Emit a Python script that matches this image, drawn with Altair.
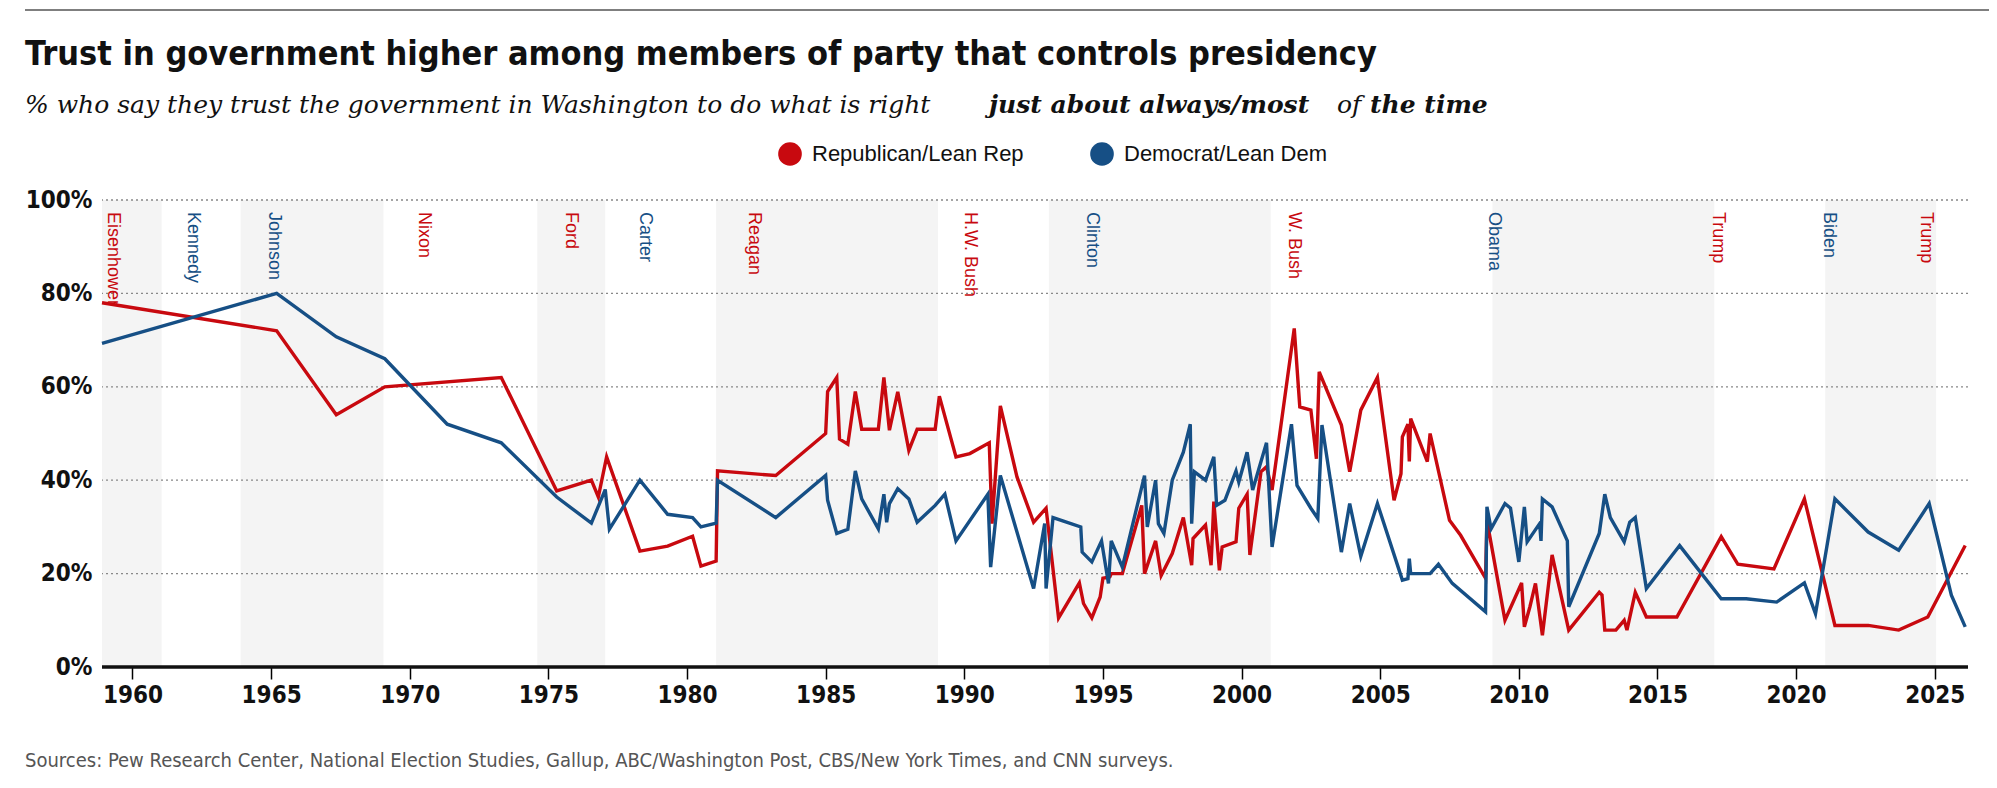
import pandas as pd
import altair as alt

RED = "#c8090f"
BLUE = "#164f85"
NARROW = "DejaVu Sans Condensed, Roboto, sans-serif"
SERIF = "DejaVu Serif"

rep_year = [1958.9, 1965.2, 1967.35, 1969.1, 1973.3, 1975.3, 1976.55, 1976.8, 1977.1, 1978.3,
            1979.3, 1980.2, 1980.5, 1981.05, 1981.1, 1983.2, 1985.0, 1985.07, 1985.4, 1985.5,
            1985.8, 1986.07, 1986.3, 1986.9, 1987.1, 1987.3, 1987.6, 1988.0, 1988.3, 1988.95,
            1989.1, 1989.7, 1990.2, 1990.9, 1991.0, 1991.3, 1991.9, 1992.5, 1992.95, 1993.4,
            1994.15, 1994.3, 1994.6, 1994.9, 1995.0, 1995.25, 1995.3, 1995.7, 1996.4, 1996.5,
            1996.9, 1997.1, 1997.5, 1997.9, 1998.2, 1998.25, 1998.7, 1998.9, 1999.0, 1999.2,
            1999.3, 1999.8, 1999.9, 2000.2, 2000.3, 2000.7, 2000.9, 2001.1, 2001.9, 2002.1,
            2002.5, 2002.7, 2002.8, 2003.6, 2003.9, 2004.3, 2004.9, 2005.5, 2005.75, 2005.8,
            2006.0, 2006.05, 2006.1, 2006.7, 2006.8, 2007.5, 2007.9, 2008.8, 2008.85, 2009.5,
            2010.1, 2010.2, 2010.4, 2010.6, 2010.85, 2011.2, 2011.8, 2012.9, 2013.0, 2013.1,
            2013.5, 2013.8, 2013.9, 2014.2, 2014.6, 2015.7, 2017.3, 2017.9, 2019.2, 2020.3,
            2021.4, 2022.6, 2023.7, 2024.75, 2026.1]
rep_val = [78, 72, 54, 60, 62, 37.7, 40, 36.4, 45, 24.8,
           25.9, 28, 21.6, 22.7, 42, 41, 50, 59, 62, 48.8,
           47.7, 59, 50.9, 50.9, 62, 50.7, 58.9, 46.4, 50.9, 50.9,
           58, 45, 45.7, 48, 30.7, 55.9, 40.7, 31, 34, 10.5,
           18, 13.6, 10.5, 15, 19, 19.3, 20, 20, 34.6, 20,
           27, 19.6, 24.3, 32, 21.8, 27.5, 30.4, 21.8, 35.4, 20.7,
           25.7, 26.8, 34, 37, 24, 41.8, 42.9, 37.9, 72.5, 55.7,
           55, 44.6, 63.2, 51.8, 41.8, 55, 62, 35.7, 41.4, 49.3,
           52, 44, 53.2, 44, 50, 31.4, 28.2, 19, 31.4, 10,
           18, 8.6, 12.9, 17.9, 6.8, 24, 7.9, 16, 15.4, 7.9,
           7.9, 10, 7.9, 16, 10.7, 10.7, 27.9, 22, 21, 36,
           8.9, 8.9, 7.9, 10.7, 26]

dem_year = [1958.9, 1965.2, 1967.35, 1969.1, 1971.35, 1973.3, 1975.3, 1976.55, 1977.05, 1977.2,
            1978.3, 1979.3, 1980.2, 1980.5, 1981.05, 1981.1, 1983.2, 1985.0, 1985.07, 1985.4,
            1985.8, 1986.07, 1986.3, 1986.9, 1987.1, 1987.2, 1987.3, 1987.6, 1988.0, 1988.3,
            1988.95, 1989.3, 1989.7, 1990.85, 1990.95, 1991.3, 1992.5, 1992.9, 1992.95, 1993.2,
            1994.2, 1994.25, 1994.6, 1994.95, 1995.2, 1995.3, 1995.7, 1996.5, 1996.6, 1996.9,
            1997.0, 1997.2, 1997.5, 1997.9, 1998.15, 1998.2, 1998.3, 1998.7, 1999.0, 1999.1,
            1999.4, 1999.8, 1999.9, 2000.2, 2000.4, 2000.9, 2001.1, 2001.8, 2002.0, 2002.5,
            2002.75, 2002.9, 2003.6, 2003.9, 2004.3, 2004.9, 2005.8, 2006.0, 2006.05, 2006.1,
            2006.8, 2007.1, 2007.6, 2008.8, 2008.85, 2009.0, 2009.5, 2009.7, 2010.0, 2010.2,
            2010.3, 2010.75, 2010.8, 2010.85, 2011.2, 2011.75, 2011.8, 2012.9, 2013.1, 2013.3,
            2013.8, 2014.0, 2014.2, 2014.6, 2015.8, 2017.3, 2018.2, 2019.3, 2020.3, 2020.7,
            2021.4, 2022.6, 2023.7, 2024.8, 2025.6, 2026.1]
dem_val = [69.3, 80, 70.7, 66, 52, 48, 36.4, 30.8, 38, 29.5,
           40, 32.7, 32, 30, 30.8, 40, 32, 41, 35.7, 28.6,
           29.5, 42, 36, 29.6, 37, 31, 35, 38.2, 36, 31,
           34.6, 37, 27, 37, 21.4, 41, 16.8, 30.7, 16.8, 32,
           30, 24.6, 22.5, 27, 17.9, 27, 21.4, 41, 30, 40,
           30.7, 28.6, 40, 46, 52, 30.7, 41.8, 40, 45, 34.6,
           35.7, 42, 39.6, 46, 37.9, 48, 25.7, 52, 38.9, 34,
           31.8, 51.8, 24.6, 35, 23.7, 35, 18.6, 18.9, 23.2, 20,
           20, 22, 17.9, 11.8, 34.3, 29.6, 35, 34, 22.5, 34.3,
           26.8, 30.7, 27, 36, 34.3, 27, 12.9, 28.6, 37, 32,
           26.8, 31, 32, 16.8, 26, 14.6, 14.6, 13.9, 18, 11.4,
           36, 28.9, 25, 35, 15.4, 8.6]

pres_name = ["Eisenhower", "Kennedy", "Johnson", "Nixon", "Ford", "Carter", "Reagan", "H.W. Bush",
             "Clinton", "W. Bush", "Obama", "Trump", "Biden", "Trump"]
pres_party = ["R", "D", "D", "R", "R", "D", "R", "R", "D", "R", "D", "R", "D", "R"]
pres_start = [1958.9, 1961.05, 1963.9, 1969.05, 1974.6, 1977.05, 1981.05, 1989.05,
              1993.05, 2001.05, 2009.05, 2017.05, 2021.05, 2025.05]
pres_end = pres_start[1:] + [2026.2]
label_year = [1959.3, 1962.2, 1965.1, 1970.5, 1975.8, 1978.5, 1982.4, 1990.2,
              1994.6, 2001.9, 2009.1, 2017.2, 2021.2, 2024.7]

legend_name = ["Republican/Lean Rep", "Democrat/Lean Dem"]
legend_color = [RED, BLUE]

X0, X1 = 1958.9, 2026.2
W, H = 1866, 467

lines = pd.concat([
    pd.DataFrame({"party": legend_name[0], "year": rep_year, "value": rep_val,
                  "order": range(len(rep_year))}),
    pd.DataFrame({"party": legend_name[1], "year": dem_year, "value": dem_val,
                  "order": range(len(dem_year))}),
])
pres = pd.DataFrame({"name": pres_name, "party": pres_party, "start": pres_start,
                     "end": pres_end, "label": label_year,
                     "shade": [i % 2 == 0 for i in range(len(pres_name))]})

xs = alt.Scale(domain=[X0, X1], nice=False, zero=False)
ys = alt.Scale(domain=[0, 100])

bands = alt.Chart(pres).transform_filter("datum.shade").mark_rect(color="#f4f4f4").encode(
    x=alt.X("start:Q", scale=xs, title=None,
            axis=alt.Axis(values=list(range(1960, 2030, 5)), format="d", grid=False,
                          domain=False, ticks=True, tickSize=12, tickWidth=1.5, tickColor="#000",
                          labelFontSize=24, labelFont=NARROW, labelFontWeight="bold",
                          labelColor="#111", labelPadding=4)),
    x2="end:Q",
    y=alt.value(0), y2=alt.value(H),
)

grid = alt.Chart(pd.DataFrame({"v": [20, 40, 60, 80, 100]})).mark_rule(
    color="#888", strokeDash=[2, 3], strokeWidth=1.3
).encode(y=alt.Y("v:Q", scale=ys, title=None,
                 axis=alt.Axis(values=[0, 20, 40, 60, 80, 100], labelExpr="datum.value + '%'",
                               grid=False, domain=False, ticks=False, labelFontSize=24,
                               labelFont=NARROW, labelFontWeight="bold", labelColor="#111",
                               labelPadding=10)))

base_rule = alt.Chart(pd.DataFrame({"v": [0]})).mark_rule(color="#111", strokeWidth=3.5).encode(
    y=alt.Y("v:Q", scale=ys))

names = alt.Chart(pres).mark_text(angle=90, align="left", baseline="middle", fontSize=18,
                                  font="Liberation Sans").encode(
    x=alt.X("label:Q", scale=xs),
    y=alt.value(12),
    text="name:N",
    color=alt.Color("party:N", scale=alt.Scale(domain=["R", "D"], range=[RED, BLUE]), legend=None),
)

series = alt.Chart(lines).mark_line(strokeWidth=3.4, strokeJoin="miter").encode(
    x=alt.X("year:Q", scale=xs),
    y=alt.Y("value:Q", scale=ys),
    order="order:Q",
    color=alt.Color("party:N", scale=alt.Scale(domain=legend_name, range=legend_color),
                    legend=None),
)

legend_df = pd.DataFrame({"name": legend_name, "color": legend_color,
                          "px": [688, 1000]})
leg_dots = alt.Chart(legend_df).mark_circle(size=560, opacity=1).encode(
    x=alt.X("px:Q", scale=None), y=alt.value(-46),
    color=alt.Color("color:N", scale=None))
leg_text = alt.Chart(legend_df).mark_text(align="left", baseline="middle", fontSize=22,
                                          font="Liberation Sans", color="#111", dx=22).encode(
    x=alt.X("px:Q", scale=None), y=alt.value(-46), text="name:N")


# title, subtitle, sources and top rule, placed in pixels relative to the plot area
def txt(s, x, y, **kw):
    return alt.Chart(pd.DataFrame({"t": [s]})).mark_text(align="left", baseline="alphabetic",
                                                          **kw).encode(
        x=alt.value(x), y=alt.value(y), text="t:N")


title = txt("Trust in government higher among members of party that controls presidency",
            -77, -135, fontSize=34, font=NARROW, fontWeight="bold", color="#111")
sub1 = txt("% who say they trust the government in Washington to do what is right", -77, -87,
           fontSize=25, font=SERIF, fontStyle="italic", color="#111")
sub2 = txt("just about always/most", 887, -87, fontSize=25, font=SERIF, fontStyle="italic",
           fontWeight="bold", color="#111")
sub3 = txt("of", 1235, -87, fontSize=25, font=SERIF, fontStyle="italic", color="#111")
sub4 = txt("the time", 1268, -87, fontSize=25, font=SERIF, fontStyle="italic",
           fontWeight="bold", color="#111")
source = txt("Sources: Pew Research Center, National Election Studies, Gallup, ABC/Washington Post, "
             "CBS/New York Times, and CNN surveys.", -77, 100 + H, fontSize=20, font=NARROW,
             color="#555")
top_rule = alt.Chart(pd.DataFrame({"a": [0]})).mark_rule(color="#555", strokeWidth=1.5).encode(
    x=alt.value(-77), x2=alt.value(W + 21), y=alt.value(-190))

chart = alt.layer(bands, grid, base_rule, names, series, leg_dots, leg_text, title, sub1, sub2,
                  sub3, sub4, source, top_rule).resolve_scale(color="independent").properties(
    width=W, height=H, background="white",
    autosize=alt.AutoSizeParams(type="none"),
    padding={"left": 94, "top": 192, "right": 21, "bottom": 113},
).configure_view(stroke=None)

chart.save("out.html", embed_options={"renderer": "svg", "actions": False})
